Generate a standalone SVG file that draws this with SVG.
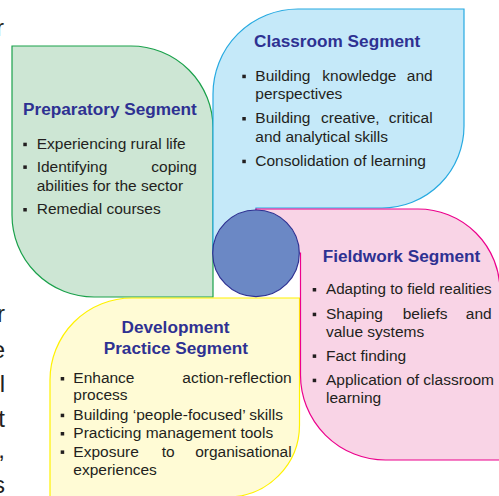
<svg xmlns="http://www.w3.org/2000/svg" width="499" height="496" viewBox="0 0 499 496">
<style>
.title{font-family:"Liberation Sans",Arial,sans-serif;font-weight:bold;font-size:17.2px;fill:#2e3192}
.body{font-family:"Liberation Sans",Arial,sans-serif;font-size:15.5px;fill:#231f20}
.frag{font-family:"Liberation Sans",Arial,sans-serif;font-size:24px;fill:#231f20}
.bul{fill:#231f20}
.end{text-anchor:end}
.mid{text-anchor:middle}
</style>
<rect width="499" height="496" fill="#ffffff"/>
<g id="page-fragments">
<text class="frag end" x="4" y="36">r</text>
<text class="frag end" x="5" y="322">r</text>
<text class="frag end" x="5" y="358">e</text>
<text class="frag end" x="5" y="392">l</text>
<text class="frag end" x="5" y="427">t</text>
<text class="frag end" x="5" y="458">,</text>
<text class="frag end" x="5" y="493">s</text>
</g>
<g id="preparatory">
<path d="M12,46 H131 A82,82 0 0 1 213,128 V297 H94 A82,82 0 0 1 12,215 Z" fill="#cde6d4" stroke="#1aa14b" stroke-width="1.2"/>
<text class="title" x="23" y="115">Preparatory Segment</text>
<rect class="bul" x="23.3" y="142.7" width="3.5" height="3.5"/>
<text class="body" x="36.7" y="149">Experiencing rural life</text>
<rect class="bul" x="23.3" y="165.4" width="3.5" height="3.5"/>
<text class="body" x="36.7" y="171.7">Identifying</text>
<text class="body end" x="197" y="171.7">coping</text>
<text class="body" x="36.7" y="190.7">abilities for the sector</text>
<rect class="bul" x="23.3" y="208" width="3.5" height="3.5"/>
<text class="body" x="36.7" y="214.3">Remedial courses</text>
</g>
<g id="classroom">
<path d="M298,9 H464 V126 A82,82 0 0 1 382,208 H256 V253 H213 V94 A85,85 0 0 1 298,9 Z" fill="#c5e9f9" stroke="#27aae1" stroke-width="1.2"/>
<text class="title" x="254" y="46.7">Classroom Segment</text>
<rect class="bul" x="242.3" y="74.7" width="3.5" height="3.5"/>
<text class="body" x="255.3" y="81">Building</text>
<text class="body" x="322.3" y="81">knowledge</text>
<text class="body end" x="432.7" y="81">and</text>
<text class="body" x="255.3" y="99.3">perspectives</text>
<rect class="bul" x="242.3" y="117" width="3.5" height="3.5"/>
<text class="body" x="255.3" y="123.3">Building</text>
<text class="body" x="321" y="123.3">creative,</text>
<text class="body end" x="432.7" y="123.3">critical</text>
<text class="body" x="255.3" y="141.7">and analytical skills</text>
<rect class="bul" x="242.3" y="159.7" width="3.5" height="3.5"/>
<text class="body" x="255.3" y="166">Consolidation of learning</text>
</g>
<g id="development">
<path d="M132,298 H299.5 V425 A72,72 0 0 1 227.5,497 H50 V380 A82,82 0 0 1 132,298 Z" fill="#fffbd5" stroke="#fff200" stroke-width="1.2"/>
<text class="title mid" x="175.5" y="333.3">Development</text>
<text class="title mid" x="175.8" y="354">Practice Segment</text>
<rect class="bul" x="60.7" y="377" width="3.5" height="3.5"/>
<text class="body" x="73.3" y="383.3">Enhance</text>
<text class="body end" x="291.7" y="383.3">action-reflection</text>
<text class="body" x="73.3" y="400">process</text>
<rect class="bul" x="60.7" y="413.7" width="3.5" height="3.5"/>
<text class="body" x="73.3" y="420">Building ‘people-focused’ skills</text>
<rect class="bul" x="60.7" y="432" width="3.5" height="3.5"/>
<text class="body" x="73.3" y="438.3">Practicing management tools</text>
<rect class="bul" x="60.7" y="450.4" width="3.5" height="3.5"/>
<text class="body" x="73.3" y="456.7">Exposure</text>
<text class="body" x="161.7" y="456.7">to</text>
<text class="body end" x="291.7" y="456.7">organisational</text>
<text class="body" x="73.3" y="475">experiences</text>
</g>
<g id="fieldwork">
<path d="M256,209 H418 A82,82 0 0 1 500,291 V460 H385.5 A85,85 0 0 1 300.5,375 V253 H256 Z" fill="#f9d4e6" stroke="#ec008c" stroke-width="1.2"/>
<text class="title" x="322.7" y="261.7">Fieldwork Segment</text>
<rect class="bul" x="312.7" y="288" width="3.5" height="3.5"/>
<text class="body" x="326" y="294.3" textLength="165.7" lengthAdjust="spacingAndGlyphs">Adapting to field realities</text>
<rect class="bul" x="312.7" y="312.7" width="3.5" height="3.5"/>
<text class="body" x="326" y="319">Shaping</text>
<text class="body" x="402.7" y="319">beliefs</text>
<text class="body end" x="491.7" y="319">and</text>
<text class="body" x="326" y="336.7">value systems</text>
<rect class="bul" x="312.7" y="354.4" width="3.5" height="3.5"/>
<text class="body" x="326" y="360.7">Fact finding</text>
<rect class="bul" x="312.7" y="378.7" width="3.5" height="3.5"/>
<text class="body" x="326" y="385">Application of classroom</text>
<text class="body" x="326" y="402.7">learning</text>
</g>
<g id="hub">
<circle cx="256" cy="253.3" r="43.3" fill="#6b88c5" stroke="#2e3192" stroke-width="1.2"/>
</g>
<g id="connectors"/>
</svg>
